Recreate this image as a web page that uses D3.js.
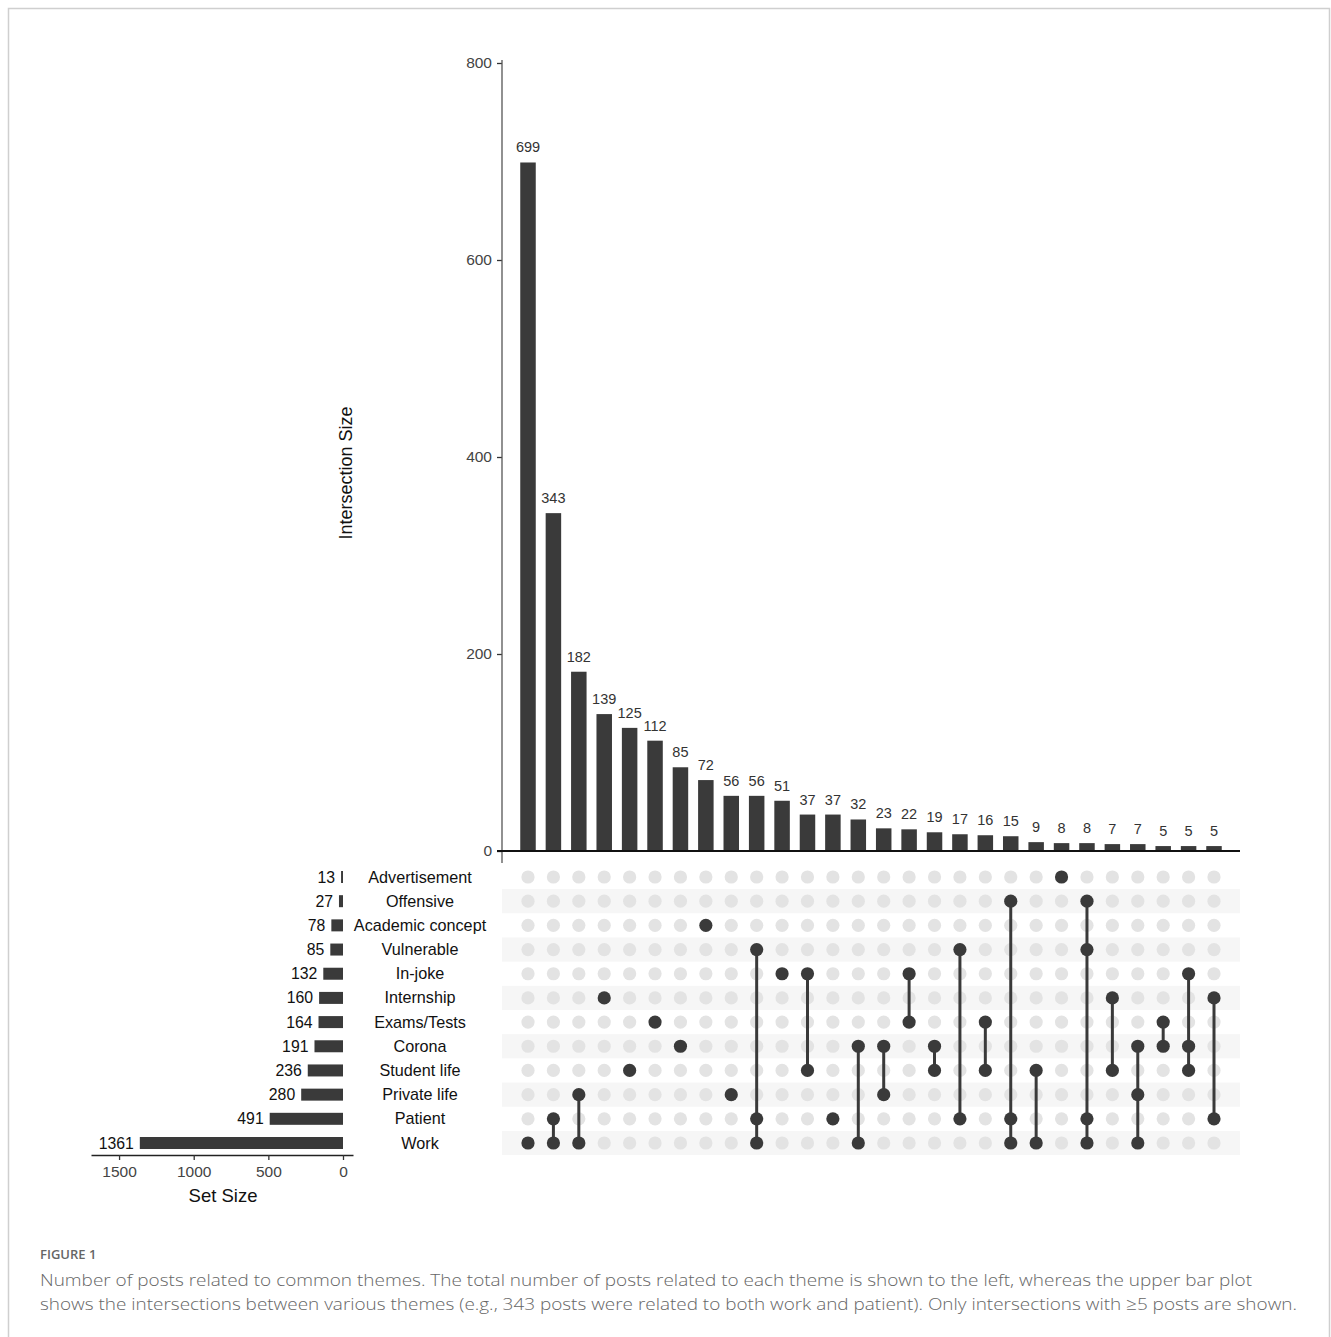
<!DOCTYPE html>
<html>
<head>
<meta charset="utf-8">
<script src="https://cdn.jsdelivr.net/npm/d3@7"></script>
<style>
  html, body { margin: 0; padding: 0; background: #fff; }
  svg { display: block; }
</style>
</head>
<body>
<svg id="chart" width="1331" height="1337"></svg>
<script>
// ---------------- DATA ----------------
const sets = ["Advertisement", "Offensive", "Academic concept", "Vulnerable", "In-joke",
  "Internship", "Exams/Tests", "Corona", "Student life", "Private life", "Patient", "Work"];
const setSizes = [13, 27, 78, 85, 132, 160, 164, 191, 236, 280, 491, 1361];

const intersectionSizes = [699, 343, 182, 139, 125, 112, 85, 72, 56, 56, 51, 37, 37, 32,
  23, 22, 19, 17, 16, 15, 9, 8, 8, 7, 7, 5, 5, 5];
const intersectionMembers = [
  ["Work"],
  ["Patient", "Work"],
  ["Private life", "Work"],
  ["Internship"],
  ["Student life"],
  ["Exams/Tests"],
  ["Corona"],
  ["Academic concept"],
  ["Private life"],
  ["Vulnerable", "Patient", "Work"],
  ["In-joke"],
  ["In-joke", "Student life"],
  ["Patient"],
  ["Corona", "Work"],
  ["Corona", "Private life"],
  ["In-joke", "Exams/Tests"],
  ["Corona", "Student life"],
  ["Vulnerable", "Patient"],
  ["Exams/Tests", "Student life"],
  ["Offensive", "Patient", "Work"],
  ["Student life", "Work"],
  ["Advertisement"],
  ["Offensive", "Vulnerable", "Patient", "Work"],
  ["Internship", "Student life"],
  ["Corona", "Private life", "Work"],
  ["Exams/Tests", "Corona"],
  ["In-joke", "Corona", "Student life"],
  ["Internship", "Patient"]
];
const intersectionTicks = [0, 200, 400, 600, 800];
const setSizeTicks = [1500, 1000, 500, 0];

const captionLabel = "FIGURE 1";
const captionLines = [
  "Number of posts related to common themes. The total number of posts related to each theme is shown to the left, whereas the upper bar plot",
  "shows the intersections between various themes (e.g., 343 posts were related to both work and patient). Only intersections with \u22655 posts are shown."
];

// ---------------- LAYOUT ----------------
const svg = d3.select("#chart");
const FONT = "'Liberation Sans', Arial, sans-serif";
const DARK = "#3a3a3a";

// frame
svg.append("rect").attr("x", 8.5).attr("y", 8.5).attr("width", 1321).attr("height", 1340)
  .attr("fill", "none").attr("stroke", "#cfcfcf").attr("stroke-width", 1.5);

const idx = intersectionSizes.map((d, i) => i);
const x = d3.scalePoint().domain(idx).range([528, 1214]);
const barW = 15.5;

const y = d3.scaleLinear().domain([0, 800]).range([851, 63]);

const rowY = d3.scalePoint().domain(sets).range([877, 1143]);
const rowStep = rowY.step();

const matLeft = 502, matRight = 1240;

// ----- intersection bars -----
const gTop = svg.append("g");
gTop.selectAll("rect.bar").data(intersectionSizes).enter().append("rect")
  .attr("class", "bar")
  .attr("x", (d, i) => x(i) - barW / 2)
  .attr("y", d => y(d))
  .attr("width", barW)
  .attr("height", d => y(0) - y(d))
  .attr("fill", DARK);

gTop.selectAll("text.val").data(intersectionSizes).enter().append("text")
  .attr("class", "val")
  .attr("x", (d, i) => x(i))
  .attr("y", d => y(d) - 10)
  .attr("text-anchor", "middle")
  .attr("font-family", FONT).attr("font-size", 14.5).attr("fill", "#333")
  .text(d => d);

// y axis
const yAxis = d3.axisLeft(y).tickValues(intersectionTicks).tickSize(5).tickSizeOuter(0).tickPadding(5);
const gy = svg.append("g").attr("transform", `translate(${matLeft},0)`).call(yAxis);
gy.select(".domain").remove();
gy.append("line").attr("x1", 0).attr("x2", 0).attr("y1", 60).attr("y2", 863)
  .attr("stroke", "#555").attr("stroke-width", 1.3);
gy.selectAll(".tick line").attr("stroke", "#333").attr("stroke-width", 1.3);
gy.selectAll(".tick text").attr("font-family", FONT).attr("font-size", 15.5).attr("fill", "#444");

// x baseline
svg.append("line").attr("x1", 497).attr("x2", matRight).attr("y1", y(0)).attr("y2", y(0))
  .attr("stroke", "#111").attr("stroke-width", 2);

svg.append("text")
  .attr("transform", `translate(352,${(63 + 851) / 2 + 16}) rotate(-90)`)
  .attr("text-anchor", "middle")
  .attr("font-family", FONT).attr("font-size", 18).attr("fill", "#111")
  .text("Intersection Size");

// ----- matrix -----
const gMat = svg.append("g");
gMat.selectAll("rect.stripe").data(sets.filter((s, i) => i % 2 === 1)).enter().append("rect")
  .attr("class", "stripe")
  .attr("x", matLeft).attr("width", matRight - matLeft)
  .attr("y", d => rowY(d) - rowStep / 2).attr("height", rowStep)
  .attr("fill", "#f6f6f6");

const allCells = [];
idx.forEach(i => sets.forEach(s => allCells.push({ i, s, on: intersectionMembers[i].includes(s) })));
gMat.selectAll("circle.bg").data(allCells.filter(c => !c.on)).enter().append("circle")
  .attr("class", "bg")
  .attr("cx", d => x(d.i)).attr("cy", d => rowY(d.s)).attr("r", 6.6)
  .attr("fill", "#e3e3e3");

gMat.selectAll("line.conn").data(idx.filter(i => intersectionMembers[i].length > 1)).enter().append("line")
  .attr("class", "conn")
  .attr("x1", i => x(i)).attr("x2", i => x(i))
  .attr("y1", i => d3.min(intersectionMembers[i], s => rowY(s)))
  .attr("y2", i => d3.max(intersectionMembers[i], s => rowY(s)))
  .attr("stroke", DARK).attr("stroke-width", 3);

gMat.selectAll("circle.on").data(allCells.filter(c => c.on)).enter().append("circle")
  .attr("class", "on")
  .attr("cx", d => x(d.i)).attr("cy", d => rowY(d.s)).attr("r", 6.6)
  .attr("fill", DARK);

gMat.selectAll("text.set").data(sets).enter().append("text")
  .attr("class", "set")
  .attr("x", 420).attr("y", d => rowY(d) + 5.5)
  .attr("text-anchor", "middle")
  .attr("font-family", FONT).attr("font-size", 16.2).attr("fill", "#111")
  .text(d => d);

// ----- set size bars -----
const sx = d3.scaleLinear().domain([-67, 1688]).range([353, 91]);
const setBarH = 12;
const gSet = svg.append("g");
gSet.selectAll("rect.sbar").data(setSizes).enter().append("rect")
  .attr("class", "sbar")
  .attr("x", d => sx(d)).attr("width", d => sx(0) - sx(d))
  .attr("y", (d, i) => rowY(sets[i]) - setBarH / 2).attr("height", setBarH)
  .attr("fill", DARK);
gSet.selectAll("text.sval").data(setSizes).enter().append("text")
  .attr("class", "sval")
  .attr("x", d => sx(d) - 6).attr("y", (d, i) => rowY(sets[i]) + 5.5)
  .attr("text-anchor", "end")
  .attr("font-family", FONT).attr("font-size", 15.8).attr("fill", "#111")
  .text(d => d);

const sAxis = d3.axisBottom(sx).tickValues(setSizeTicks).tickFormat(d3.format("d"))
  .tickSize(5).tickSizeOuter(0).tickPadding(6);
const gs = svg.append("g").attr("transform", "translate(0,1155)").call(sAxis);
gs.select(".domain").attr("stroke", "#222").attr("stroke-width", 1.5);
gs.selectAll(".tick line").attr("stroke", "#333").attr("stroke-width", 1.3);
gs.selectAll(".tick text").attr("font-family", FONT).attr("font-size", 15.5).attr("fill", "#444");

svg.append("text").attr("x", 223).attr("y", 1202).attr("text-anchor", "middle")
  .attr("font-family", FONT).attr("font-size", 18.5).attr("fill", "#111")
  .text("Set Size");

// ----- caption -----
svg.append("text").attr("x", 40).attr("y", 1259)
  .attr("font-family", "'Open Sans', sans-serif").attr("font-size", 13).attr("font-weight", 600)
  .attr("fill", "#666").text(captionLabel);
svg.selectAll("text.cap").data(captionLines).enter().append("text")
  .attr("class", "cap")
  .attr("x", 40).attr("y", (d, i) => 1286 + i * 24)
  .attr("font-family", "'Open Sans', sans-serif").attr("font-size", 17).attr("font-weight", 300)
  .attr("fill", "#666")
  .attr("textLength", (d, i) => i === 0 ? 1212 : 1257)
  .attr("lengthAdjust", "spacingAndGlyphs")
  .text(d => d);
</script>
</body>
</html>
